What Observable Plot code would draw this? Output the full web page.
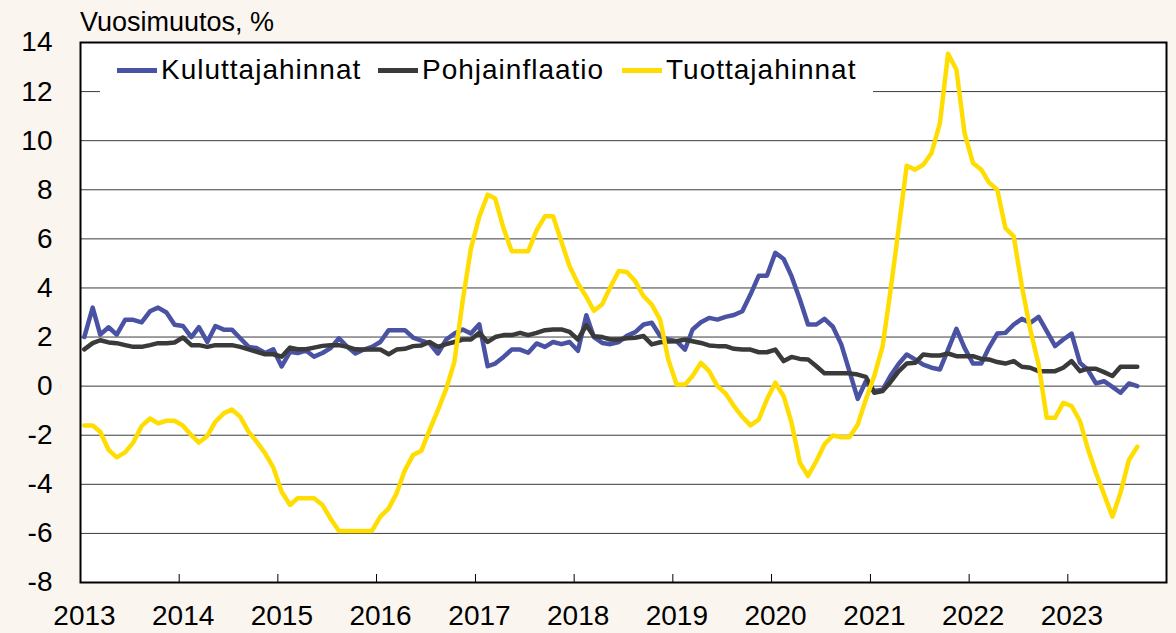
<!DOCTYPE html>
<html>
<head>
<meta charset="utf-8">
<script src="https://cdn.jsdelivr.net/npm/d3@7"></script>
<script src="https://cdn.jsdelivr.net/npm/@observablehq/plot@0.6"></script>
<style>
  html, body { margin: 0; padding: 0; background: #FAF5EF; }
  #wrap { position: relative; width: 1176px; height: 633px; font-family: "Liberation Sans", Arial, sans-serif; color: #000; }
  #title { position: absolute; left: 80px; top: 9px; font-size: 27px; line-height: 27px; white-space: nowrap; }
  #legend { position: absolute; left: 100px; top: 50px; width: 773px; height: 44px; background: #fff; }
  .item { position: absolute; top: 0; height: 44px; }
  .sw { position: absolute; top: 18px; width: 40px; height: 4.5px; }
  .lab { position: absolute; top: 6px; left: 44px; font-size: 28px; line-height: 28px; letter-spacing: 1px; white-space: nowrap; }
  #chart svg { display: block; }
</style>
</head>
<body>
<div id="wrap">
  <div id="chart"></div>
  <div id="title">Vuosimuutos, %</div>
  <div id="legend"></div>
</div>
<script>
// ---- Data (monthly, Jan 2013 – Sep 2023) ----
const startYear = 2013;
const monthCount = 129;
const seriesNames = ["Kuluttajahinnat", "Pohjainflaatio", "Tuottajahinnat"];
const seriesColors = ["#4A53A3", "#3A3A3A", "#FFDD00"];

const kuluttajahinnat = [
  2.0, 3.2, 2.1, 2.4, 2.1, 2.7, 2.7, 2.6, 3.05, 3.2, 3.0, 2.5,
  2.45, 2.0, 2.4, 1.8, 2.45, 2.3, 2.3, 1.95, 1.6, 1.55, 1.35, 1.5,
  0.8, 1.4, 1.35, 1.45, 1.2, 1.35, 1.55, 1.95, 1.6, 1.33, 1.49, 1.6,
  1.8, 2.28, 2.28, 2.28, 1.98, 1.85, 1.74, 1.33, 1.9, 2.14, 2.31, 2.14,
  2.52, 0.81, 0.92, 1.19, 1.49, 1.49, 1.36, 1.74, 1.6, 1.8, 1.71, 1.8,
  1.44, 2.89, 2.0, 1.76, 1.71, 1.8, 2.05, 2.2, 2.51, 2.58, 2.04, 1.9,
  1.83, 1.49, 2.31, 2.6, 2.78, 2.71, 2.82, 2.9, 3.05, 3.73, 4.5, 4.5,
  5.43, 5.18, 4.48, 3.53, 2.51, 2.51, 2.74, 2.42, 1.7, 0.61, -0.52, 0.2,
  -0.2, -0.15, 0.4, 0.9, 1.29, 1.09, 0.88, 0.75, 0.68, 1.49, 2.33, 1.56,
  0.92, 0.92, 1.56, 2.14, 2.17, 2.51, 2.74, 2.58, 2.82, 2.24, 1.63, 1.9,
  2.14, 0.95, 0.68, 0.11, 0.2, -0.03, -0.27, 0.11, 0.0
];

const pohjainflaatio = [
  1.5, 1.75, 1.87, 1.78, 1.75, 1.67, 1.6, 1.6, 1.67, 1.75, 1.75, 1.78,
  1.98, 1.67, 1.67, 1.6, 1.67, 1.67, 1.67, 1.6, 1.5, 1.4, 1.3, 1.3,
  1.2, 1.57, 1.5, 1.5, 1.57, 1.64, 1.67, 1.67, 1.6, 1.5, 1.49, 1.49,
  1.49, 1.3, 1.49, 1.52, 1.63, 1.66, 1.8, 1.6, 1.71, 1.8, 1.9, 1.9,
  2.17, 1.8, 2.0, 2.08, 2.08, 2.17, 2.08, 2.17, 2.28, 2.31, 2.31, 2.21,
  1.9, 2.48, 2.03, 2.0, 1.9, 1.9, 1.95, 1.97, 2.04, 1.7, 1.79, 1.82,
  1.83, 1.9, 1.83, 1.76, 1.66, 1.63, 1.63, 1.52, 1.49, 1.49, 1.38, 1.38,
  1.49, 1.02, 1.19, 1.11, 1.09, 0.81, 0.52, 0.52, 0.52, 0.52, 0.47, 0.38,
  -0.27, -0.2, 0.15, 0.6, 0.92, 0.95, 1.29, 1.25, 1.25, 1.33, 1.22, 1.22,
  1.22, 1.11, 1.09, 0.98, 0.92, 1.02, 0.79, 0.75, 0.61, 0.61, 0.61, 0.75,
  1.02, 0.61, 0.71, 0.71, 0.57, 0.41, 0.79, 0.79, 0.79
];

const tuottajahinnat = [
  -1.6, -1.6, -1.86, -2.6, -2.9, -2.7, -2.3, -1.63, -1.32, -1.52, -1.41, -1.41,
  -1.61, -2.0, -2.3, -2.03, -1.45, -1.11, -0.95, -1.25, -1.86, -2.27, -2.74, -3.31,
  -4.3, -4.84, -4.57, -4.57, -4.57, -4.84, -5.4, -5.9, -5.9, -5.9, -5.9, -5.9,
  -5.32, -4.98, -4.37, -3.42, -2.81, -2.63, -1.79, -0.98, -0.1, 0.99, 3.5, 5.6,
  6.9, 7.8, 7.64, 6.42, 5.5, 5.5, 5.5, 6.35, 6.92, 6.92, 5.88, 4.88,
  4.18, 3.64, 3.07, 3.34, 4.04, 4.69, 4.65, 4.27, 3.66, 3.32, 2.71, 1.09,
  0.07, 0.07, 0.41, 0.95, 0.61, 0.0, -0.3, -0.81, -1.25, -1.6, -1.36, -0.54,
  0.14, -0.41, -1.49, -3.12, -3.66, -3.05, -2.37, -2.01, -2.08, -2.08, -1.56, -0.54,
  0.41, 1.63, 3.8, 6.4, 8.98, 8.82, 9.02, 9.5, 10.72, 13.54, 12.89, 10.31,
  9.09, 8.82, 8.3, 8.0, 6.44, 6.1, 4.07, 2.31, 0.88, -1.29, -1.29, -0.68,
  -0.81, -1.42, -2.51, -3.53, -4.41, -5.32, -4.34, -3.01, -2.47
];

const yTicks = [-8, -6, -4, -2, 0, 2, 4, 6, 8, 10, 12, 14];
const yearTicks = [2013, 2014, 2015, 2016, 2017, 2018, 2019, 2020, 2021, 2022, 2023];

// ---- Build table ----
const months = d3.range(monthCount).map(i => new Date(Date.UTC(startYear, i, 15)));
const seriesValues = [kuluttajahinnat, pohjainflaatio, tuottajahinnat];
const rows = seriesValues.map((vals, s) =>
  vals.map((v, i) => ({date: months[i], value: v, series: seriesNames[s]})));
const yearDates = yearTicks.map(y => new Date(Date.UTC(y, 0, 1)));

const W = 1176, H = 633;
const mTop = 42, mBottom = 51, mLeft = 80, mRight = 10;
const innerH = H - mTop - mBottom;

const chart = Plot.plot({
  width: W,
  height: H,
  marginTop: mTop,
  marginBottom: mBottom,
  marginLeft: mLeft,
  marginRight: mRight,
  style: {background: "transparent", fontFamily: "'Liberation Sans', Arial, sans-serif", fontSize: "28px", color: "#000", overflow: "visible"},
  x: {type: "utc", domain: [new Date(Date.UTC(2013, 0, 1)), new Date(Date.UTC(2024, 0, 1))]},
  y: {domain: [-8, 14]},
  marks: [
    Plot.frame({fill: "#fff", stroke: null}),
    Plot.ruleY(yTicks, {stroke: "#3c3c3c", strokeWidth: 1}),
    Plot.tickX(yearDates, {stroke: "#000", strokeWidth: 1, insetTop: innerH - 8}),
    Plot.axisY({ticks: yTicks, tickSize: 0, tickPadding: 28, fontSize: 28, tickFormat: d => String(d), label: null}),
    Plot.axisX({ticks: yearDates, tickSize: 0, tickPadding: 23, fontSize: 28, tickFormat: d => String(d.getUTCFullYear()), label: null, dx: 4}),
    ...rows.map((r, s) => Plot.line(r, {x: "date", y: "value", stroke: seriesColors[s], strokeWidth: 4.5, strokeLinejoin: "round", strokeLinecap: "round"})),
    Plot.frame({stroke: "#000", strokeWidth: 2})
  ]
});
document.getElementById("chart").appendChild(chart);

// ---- Legend ----
const legend = document.getElementById("legend");
const itemLefts = [17, 278, 522];
seriesNames.forEach((name, s) => {
  const it = document.createElement("div");
  it.className = "item";
  it.style.left = itemLefts[s] + "px";
  const sw = document.createElement("div");
  sw.className = "sw";
  sw.style.background = seriesColors[s];
  const lab = document.createElement("div");
  lab.className = "lab";
  lab.textContent = name;
  it.appendChild(sw);
  it.appendChild(lab);
  legend.appendChild(it);
});
</script>
</body>
</html>
